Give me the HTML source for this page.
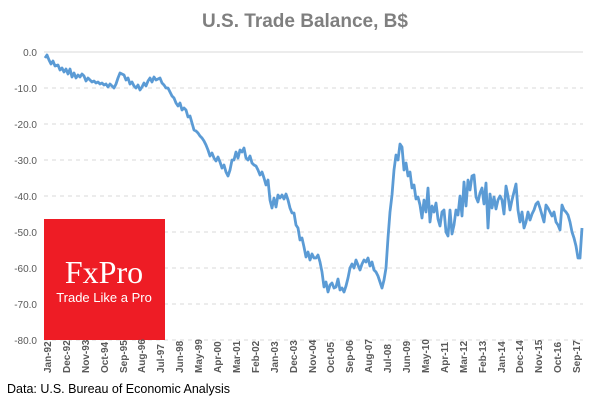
<!DOCTYPE html>
<html><head><meta charset="utf-8"><style>
body{margin:0;background:#fff;width:600px;height:400px;overflow:hidden;font-family:"Liberation Sans",sans-serif}
</style></head><body>
<svg width="600" height="400" xmlns="http://www.w3.org/2000/svg" font-family="Liberation Sans, sans-serif">
<text x="305" y="27" text-anchor="middle" font-size="19" font-weight="bold" fill="#7f7f7f">U.S. Trade Balance, B$</text>
<g stroke="#d9d9d9" stroke-width="1">
<line x1="44" y1="52" x2="583" y2="52"/>
<g stroke-dasharray="4,4">
<line x1="44" y1="88" x2="583" y2="88"/><line x1="44" y1="124" x2="583" y2="124"/><line x1="44" y1="160" x2="583" y2="160"/><line x1="44" y1="196" x2="583" y2="196"/><line x1="44" y1="232" x2="583" y2="232"/><line x1="44" y1="268" x2="583" y2="268"/><line x1="44" y1="304" x2="583" y2="304"/><line x1="44" y1="340" x2="583" y2="340"/></g></g>
<g font-size="10" fill="#595959" text-anchor="end">
<text x="37" y="56">0.0</text><text x="37" y="92">-10.0</text><text x="37" y="128">-20.0</text><text x="37" y="164">-30.0</text><text x="37" y="200">-40.0</text><text x="37" y="236">-50.0</text><text x="37" y="272">-60.0</text><text x="37" y="308">-70.0</text><text x="37" y="344">-80.0</text></g>
<rect x="44" y="219" width="121" height="121" fill="#ee1c25"/>
<text x="104" y="283" text-anchor="middle" font-family="Liberation Serif, serif" font-size="32" fill="#fff">FxPro</text>
<text x="104" y="302" text-anchor="middle" font-size="13" fill="#fff">Trade Like a Pro</text>
<polyline fill="none" stroke="#5b9bd5" stroke-width="2.8" stroke-linejoin="round" points="45,58 47,55 49,60 51,64 53,61 55,66 58,65 60,70 62,68 64,72 66,69 68,74 70,69 72,77 74,73 76,78 78,75 80,77 82,74 84,76 86,81 88,78 90,80 92,82 94,81 96,83 98,82 100,84 102,83 104,85 106,84 108,87 110,84 112,86 114,88 116,84 118,78 120,73 122,74 124,75 126,80 128,78 130,84 132,82 134,86 136,88 138,85 140,90 142,87 144,83 146,86 148,81 150,78 152,82 154,77 156,80 158,79 160,78 162,83 164,85 166,88 168,88 170,92 172,96 174,98 176,103 178,106 180,103 182,110 184,108 186,110 188,117 190,116 192,123 194,130 196,131 198,133 200,136 202,138 204,141 206,145 208,150 210,156 212,153 214,158 216,161 218,157 220,162 222,168 224,165 226,172 228,176 230,170 232,160 234,160 236,152 238,158 240,150 242,152 244,148 246,158 248,160 250,156 252,163 254,165 256,166 258,170 260,175 262,172 264,178 266,185 268,180 270,200 272,208 274,198 276,207 278,195 280,198 282,195 284,199 286,194 288,200 290,208 292,213 294,213 296,225 298,228 300,240 302,238 304,247 306,257 308,252 310,260 312,254 314,258 316,258 318,255 320,262 322,272 324,287 326,282 328,292 330,285 332,283 334,288 336,287 338,279 340,290 342,288 344,292 346,286 348,278 350,268 352,264 354,268 356,260 358,265 360,270 362,264 364,260 366,262 368,258 370,266 372,262 374,270 376,272 378,276 380,282 382,288 384,280 386,268 388,238 390,212 392,195 394,170 396,155 398,160 400,144 402,147 404,170 406,163 408,176 410,172 412,188 414,185 416,199 418,197 420,205 422,218 424,200 426,212 428,188 430,222 432,206 434,212 436,203 438,219 440,226 442,212 444,210 446,232 448,236 450,210 452,234 454,225 456,210 458,215 460,196 462,216 464,182 466,206 468,180 470,190 472,176 474,175 476,197 478,202 480,193 482,188 484,204 486,183 488,228 490,194 492,208 494,197 496,209 498,200 500,196 502,200 504,214 506,186 508,196 510,210 512,200 514,192 516,184 518,210 520,222 522,212 524,228 526,222 528,212 530,220 532,214 534,210 536,204 538,202 540,208 542,215 544,222 546,205 548,208 550,212 552,216 554,212 556,222 558,225 560,230 562,205 564,210 566,212 568,215 570,222 572,232 574,238 576,246 578,258 580,258 582,228"/>
<g font-size="10" font-weight="bold" fill="#595959">
<text transform="translate(51,373) rotate(-90)">Jan-92</text>
<text transform="translate(70,373) rotate(-90)">Dec-92</text>
<text transform="translate(89,373) rotate(-90)">Nov-93</text>
<text transform="translate(108,373) rotate(-90)">Oct-94</text>
<text transform="translate(127,373) rotate(-90)">Sep-95</text>
<text transform="translate(145,373) rotate(-90)">Aug-96</text>
<text transform="translate(164,373) rotate(-90)">Jul-97</text>
<text transform="translate(183,373) rotate(-90)">Jun-98</text>
<text transform="translate(202,373) rotate(-90)">May-99</text>
<text transform="translate(221,373) rotate(-90)">Apr-00</text>
<text transform="translate(240,373) rotate(-90)">Mar-01</text>
<text transform="translate(259,373) rotate(-90)">Feb-02</text>
<text transform="translate(278,373) rotate(-90)">Jan-03</text>
<text transform="translate(297,373) rotate(-90)">Dec-03</text>
<text transform="translate(316,373) rotate(-90)">Nov-04</text>
<text transform="translate(334,373) rotate(-90)">Oct-05</text>
<text transform="translate(353,373) rotate(-90)">Sep-06</text>
<text transform="translate(372,373) rotate(-90)">Aug-07</text>
<text transform="translate(391,373) rotate(-90)">Jul-08</text>
<text transform="translate(410,373) rotate(-90)">Jun-09</text>
<text transform="translate(429,373) rotate(-90)">May-10</text>
<text transform="translate(448,373) rotate(-90)">Apr-11</text>
<text transform="translate(467,373) rotate(-90)">Mar-12</text>
<text transform="translate(486,373) rotate(-90)">Feb-13</text>
<text transform="translate(505,373) rotate(-90)">Jan-14</text>
<text transform="translate(523,373) rotate(-90)">Dec-14</text>
<text transform="translate(542,373) rotate(-90)">Nov-15</text>
<text transform="translate(561,373) rotate(-90)">Oct-16</text>
<text transform="translate(580,373) rotate(-90)">Sep-17</text>
</g>
<text x="7" y="393" font-size="12.5" fill="#000">Data: U.S. Bureau of Economic Analysis</text>
</svg>
</body></html>
